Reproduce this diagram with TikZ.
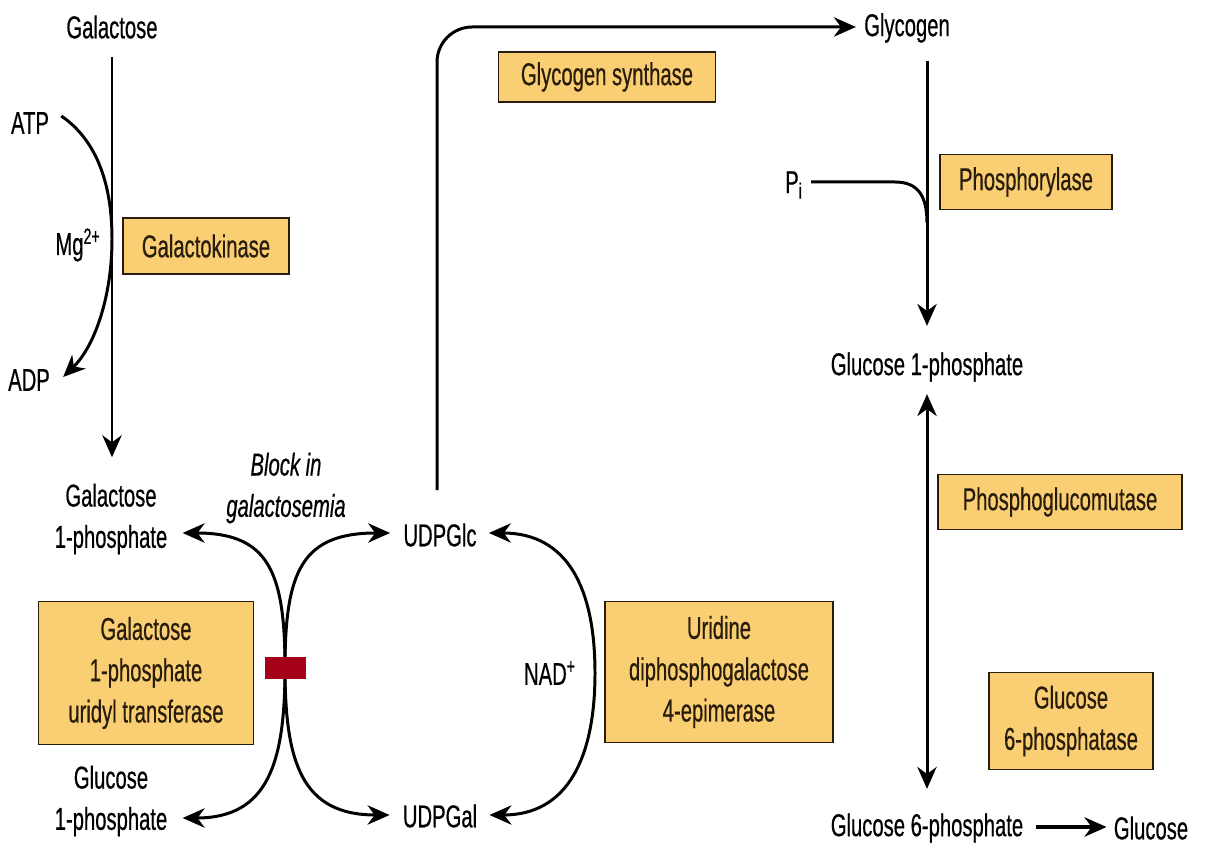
\documentclass[tikz,border=0pt]{standalone}
\usepackage{fontspec}
\setmainfont{Liberation Sans}[FakeStretch=0.64,FakeBold=0.5]
\usepackage{tikz}
\usetikzlibrary{calc}
\usetikzlibrary{arrows.meta}
\definecolor{EnzYellow}{RGB}{250,206,115}
\definecolor{BlockRed}{RGB}{165,0,25}
\definecolor{InkBrown}{RGB}{40,28,12}
\newcommand{\labelfont}{\fontsize{18}{23.5}\selectfont}
\tikzset{
  met/.style={inner sep=0pt,align=center},
  enz/.style={draw=InkBrown,fill=EnzYellow,line width=1pt,inner sep=0pt,
    align=center,text=InkBrown},
  block/.style={fill=BlockRed,inner sep=0pt,minimum width=0.82cm,minimum height=0.44cm},
  flux/.style={draw=black,line width=1.7pt},
}

\begin{document}
\begin{tikzpicture}[x=0.02cm,y=0.02cm,font=\labelfont,
  >={Stealth[length=12.5pt,width=11pt,inset=4pt]}]
\useasboundingbox (0,0) rectangle (1209,851);
% metabolites
\node[met] (gal) at (112,824) {Galactose};
\node[met] (atp) at (30,728) {ATP};
\node[met] (mg) at (78,606) {Mg\textsuperscript{2+}};
\node[met] (adp) at (29,471) {ADP};
\node[met] (gal1p) at (111,332) {Galactose\\1-phosphate};
\node[met] (glc1pa) at (111,50) {Glucose\\1-phosphate};
\node[met] (udpglc) at (440,316) {UDPGlc};
\node[met] (udpgal) at (440,35) {UDPGal};
\node[met] (glycogen) at (907,823) {Glycogen};
\node[met] (pi) at (794,666) {P\textsubscript{i}};
\node[met] (glc1p) at (927,484) {Glucose 1-phosphate};
\node[met] (g6p) at (927,23) {Glucose 6-phosphate};
\node[met] (glc) at (1151,23) {Glucose};
\node[met] (nad) at (550,178) {NAD\textsuperscript{+}};
\node[met,font=\labelfont\itshape] (blocktxt) at (286,363) {Block in\\galactosemia};

% enzymes
\node[enz,minimum width=3.32cm,minimum height=1.12cm] (gk) at (206,605) {Galactokinase};
\node[enz,minimum width=4.3cm,minimum height=2.86cm] (gt) at (146,178)
  {Galactose\\1-phosphate\\uridyl transferase};
\node[enz,minimum width=4.34cm,minimum height=1.0cm] (gs) at (607,774) {Glycogen synthase};
\node[enz,minimum width=3.44cm,minimum height=1.1cm] (phos) at (1026,669) {Phosphorylase};
\node[enz,minimum width=4.88cm,minimum height=1.1cm] (pgm) at (1060,349) {Phosphoglucomutase};
\node[enz,minimum width=3.28cm,minimum height=1.94cm] (g6pase) at (1071,130)
  {Glucose\\6-phosphatase};
\node[enz,minimum width=4.56cm,minimum height=2.82cm] (epi) at (719,179)
  {Uridine\\diphosphogalactose\\4-epimerase};

% galactokinase step
\draw[flux,->] ($(gal.south)+(0,-18)$) -- ($(gal.south |- gal1p.north)+(0,26)$);
\draw[flux,->] ($(atp.east)+(12,7)$) .. controls (95,712) and (112,670) .. (112,612)
  .. controls (112,555) and (95,505) .. ($(adp.east)+(13,3)$);

% transferase and epimerase
\coordinate (kiss) at (285,183);
\draw[flux,<->] ($(gal1p.east)+(15,-14)$) .. controls (268,318) and (285,280) .. (kiss)
  .. controls (285,88) and (268,33) .. ($(glc1pa.east)+(15,-17)$);
\draw[flux,<->] ($(udpglc.west)+(-13,2)$) .. controls (302,318) and (285,280) .. (kiss)
  .. controls (285,88) and (302,36) .. ($(udpgal.west)+(-13,1)$);
\node[block] (blk) at (kiss) {};
\draw[flux,<->] ($(udpglc.east)+(12,2)$) .. controls (568,318) and (595,262) .. (595,178)
  .. controls (595,94) and (568,36) .. ($(udpgal.east)+(12,1)$);

% glycogen
\draw[flux,->,rounded corners=20pt] ($(udpglc.north)+(-3,33)$) |- ($(glycogen.west)+(-8,1)$);
\coordinate (join) at (927,628);
\draw[flux,->] ($(glc1p.north |- glycogen.south)+(0,-18)$) -- ($(glc1p.north)+(0,26)$);
\draw[flux] ($(pi.east)+(8,3)$) -- (895,669) .. controls (918,669) and (927,655) .. (join);

% glucose
\draw[flux,<->] ($(glc1p.south)+(0,-12)$) -- ($(g6p.north)+(0,24)$);
\draw[flux,line width=2.3pt,->] ($(g6p.east)+(12,1)$) -- ($(glc.west)+(-7,1)$);
\end{tikzpicture}
\end{document}
